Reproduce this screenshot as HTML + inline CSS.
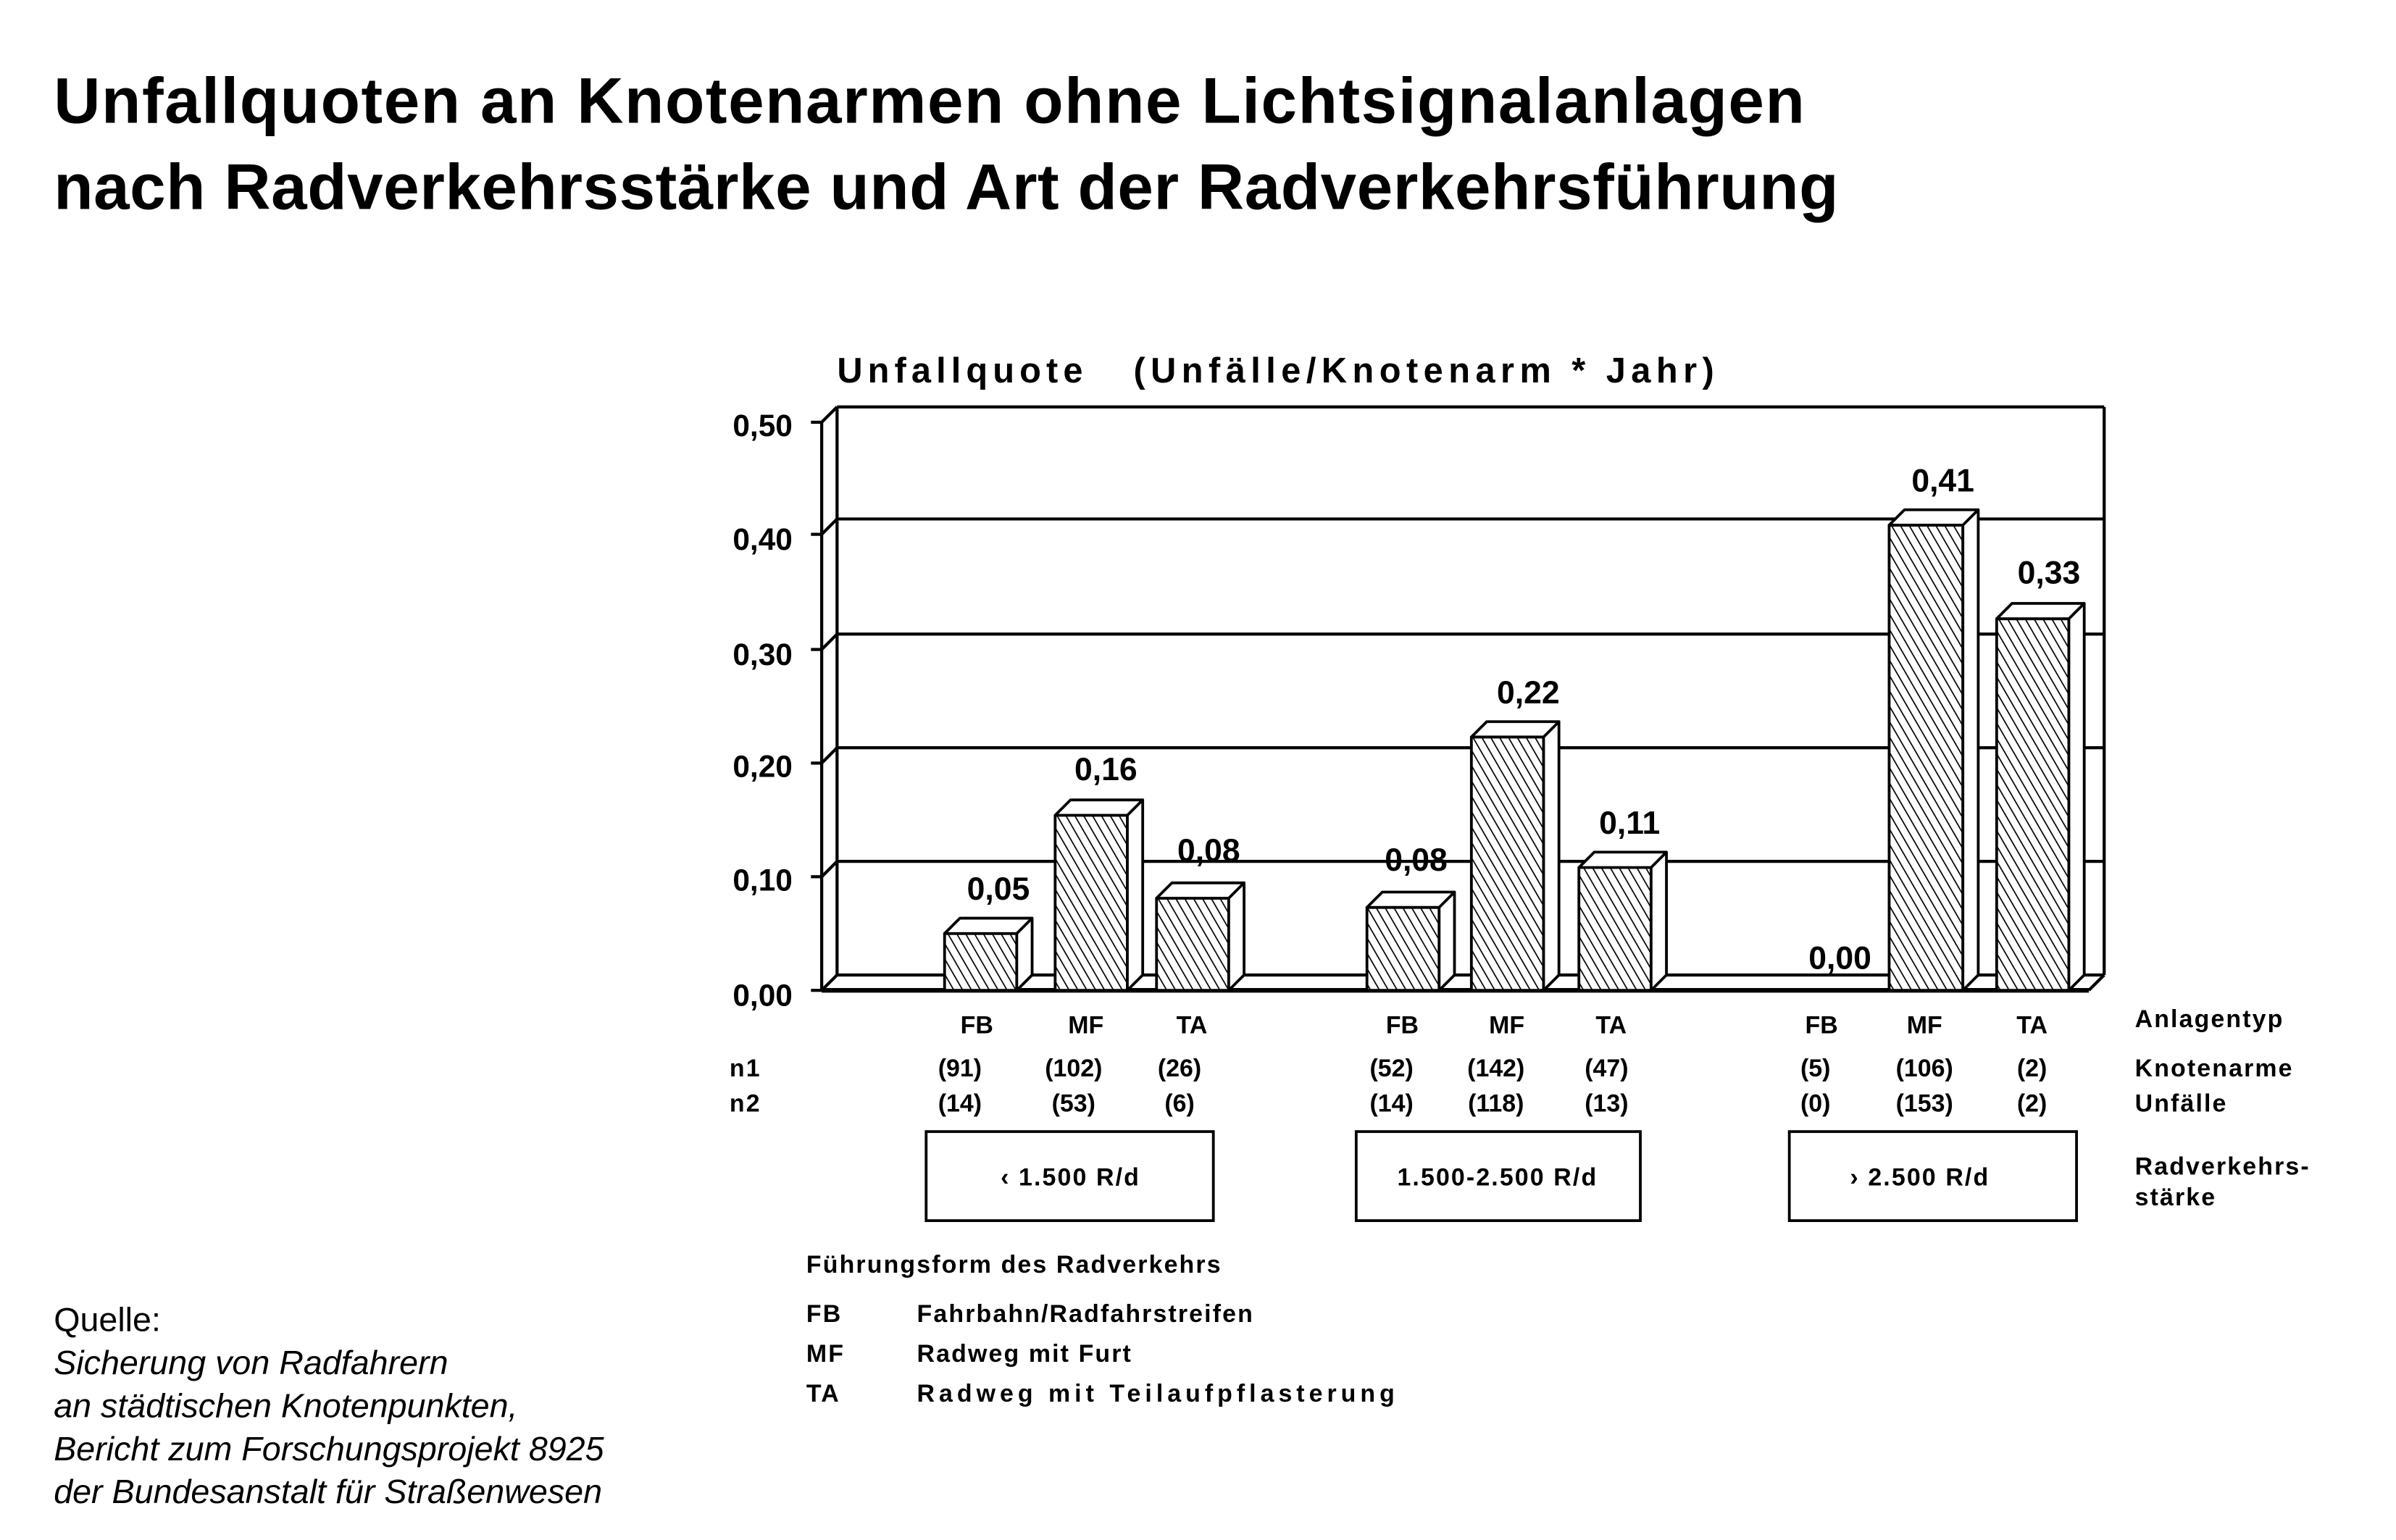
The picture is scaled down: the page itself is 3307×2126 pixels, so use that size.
<!DOCTYPE html>
<html><head><meta charset="utf-8"><style>html,body{margin:0;padding:0;background:#fff}svg{display:block}</style></head>
<body>
<svg width="3307" height="2126" viewBox="0 0 1560 1003" preserveAspectRatio="none" xmlns="http://www.w3.org/2000/svg" font-family="Liberation Sans, sans-serif">
<defs>
<pattern id="h" patternUnits="userSpaceOnUse" width="5" height="5" patternTransform="rotate(-30)">
<rect width="5" height="5" fill="#fff"/><line x1="0" y1="0" x2="0" y2="5" stroke="#000" stroke-width="1.6"/></pattern>
</defs>
<g font-weight="bold" fill="#000">
<text x="35" y="80" font-size="42" textLength="1140">Unfallquoten an Knotenarmen ohne Lichtsignalanlagen</text>
<text x="35" y="136" font-size="42" textLength="1162">nach Radverkehrsstärke und Art der Radverkehrsführung</text>
</g>
<text x="545" y="249" font-size="23" font-weight="bold" textLength="160">Unfallquote</text>
<text x="738" y="249" font-size="23" font-weight="bold" textLength="378">(Unfälle/Knotenarm * Jahr)</text>
<g stroke="#000" fill="none" stroke-width="2">
<line x1="545" y1="265" x2="1370" y2="265"/>
<line x1="1370" y1="265" x2="1370" y2="635"/>
<line x1="545" y1="265" x2="545" y2="635"/>
<line x1="545" y1="338" x2="1370" y2="338"/>
<line x1="545" y1="413" x2="1370" y2="413"/>
<line x1="545" y1="487" x2="1370" y2="487"/>
<line x1="545" y1="561" x2="1370" y2="561"/>
<line x1="545" y1="635" x2="1370" y2="635"/>
<line x1="535" y1="275" x2="535" y2="645"/>
<line x1="535" y1="645" x2="1360" y2="645" stroke-width="3"/>
<line x1="535" y1="275" x2="545" y2="265"/>
<line x1="535" y1="348" x2="545" y2="338"/>
<line x1="535" y1="423" x2="545" y2="413"/>
<line x1="535" y1="497" x2="545" y2="487"/>
<line x1="535" y1="571" x2="545" y2="561"/>
<line x1="535" y1="645" x2="545" y2="635"/>
<line x1="1360" y1="645" x2="1370" y2="635"/>
<line x1="528" y1="275" x2="535" y2="275"/><line x1="528" y1="348" x2="535" y2="348"/><line x1="528" y1="423" x2="535" y2="423"/><line x1="528" y1="497" x2="535" y2="497"/><line x1="528" y1="571" x2="535" y2="571"/><line x1="528" y1="645" x2="535" y2="645"/>
</g>
<g font-size="20" font-weight="bold" text-anchor="end">
<text x="516" y="284">0,50</text><text x="516" y="358">0,40</text><text x="516" y="433">0,30</text><text x="516" y="506">0,20</text><text x="516" y="580">0,10</text><text x="516" y="655">0,00</text>
</g>
<g stroke="#000" stroke-width="1.8" stroke-linejoin="round">
<path d="M615 608 h47 v37 h-47z" fill="url(#h)"/><path d="M615 608 l10 -10 h47 l-10 10z M662 608 l10 -10 v37 l-10 10z" fill="#fff"/>
<path d="M687 531 h47 v114 h-47z" fill="url(#h)"/><path d="M687 531 l10 -10 h47 l-10 10z M734 531 l10 -10 v114 l-10 10z" fill="#fff"/>
<path d="M753 585 h47 v60 h-47z" fill="url(#h)"/><path d="M753 585 l10 -10 h47 l-10 10z M800 585 l10 -10 v60 l-10 10z" fill="#fff"/>
<path d="M890 591 h47 v54 h-47z" fill="url(#h)"/><path d="M890 591 l10 -10 h47 l-10 10z M937 591 l10 -10 v54 l-10 10z" fill="#fff"/>
<path d="M958 480 h47 v165 h-47z" fill="url(#h)"/><path d="M958 480 l10 -10 h47 l-10 10z M1005 480 l10 -10 v165 l-10 10z" fill="#fff"/>
<path d="M1028 565 h47 v80 h-47z" fill="url(#h)"/><path d="M1028 565 l10 -10 h47 l-10 10z M1075 565 l10 -10 v80 l-10 10z" fill="#fff"/>
<path d="M1230 342 h48 v303 h-48z" fill="url(#h)"/><path d="M1230 342 l10 -10 h48 l-10 10z M1278 342 l10 -10 v303 l-10 10z" fill="#fff"/>
<path d="M1300 403 h47 v242 h-47z" fill="url(#h)"/><path d="M1300 403 l10 -10 h47 l-10 10z M1347 403 l10 -10 v242 l-10 10z" fill="#fff"/>
</g>
<g font-size="21" font-weight="bold" text-anchor="middle">
<text x="650" y="586">0,05</text><text x="720" y="508">0,16</text><text x="787" y="561">0,08</text>
<text x="922" y="567">0,08</text><text x="995" y="458">0,22</text><text x="1061" y="543">0,11</text>
<text x="1198" y="631">0,00</text><text x="1265" y="320">0,41</text><text x="1334" y="380">0,33</text>
</g>
<g font-size="16" font-weight="bold" text-anchor="middle">
<text x="636" y="673">FB</text><text x="707" y="673">MF</text><text x="776" y="673">TA</text>
<text x="913" y="673">FB</text><text x="981" y="673">MF</text><text x="1049" y="673">TA</text>
<text x="1186" y="673">FB</text><text x="1253" y="673">MF</text><text x="1323" y="673">TA</text>
<text x="625" y="701">(91)</text><text x="699" y="701">(102)</text><text x="768" y="701">(26)</text>
<text x="906" y="701">(52)</text><text x="974" y="701">(142)</text><text x="1046" y="701">(47)</text>
<text x="1182" y="701">(5)</text><text x="1253" y="701">(106)</text><text x="1323" y="701">(2)</text>
<text x="625" y="724">(14)</text><text x="699" y="724">(53)</text><text x="768" y="724">(6)</text>
<text x="906" y="724">(14)</text><text x="974" y="724">(118)</text><text x="1046" y="724">(13)</text>
<text x="1182" y="724">(0)</text><text x="1253" y="724">(153)</text><text x="1323" y="724">(2)</text>
</g>
<g font-size="16" font-weight="bold" letter-spacing="1">
<text x="475" y="701">n1</text><text x="475" y="724">n2</text>
<text x="1390" y="669">Anlagentyp</text><text x="1390" y="701">Knotenarme</text><text x="1390" y="724">Unfälle</text>
<text x="1390" y="765">Radverkehrs-</text><text x="1390" y="785">stärke</text>
<text x="525" y="829">Führungsform des Radverkehrs</text>
<text x="525" y="861">FB</text><text x="597" y="861">Fahrbahn/Radfahrstreifen</text>
<text x="525" y="887">MF</text><text x="597" y="887">Radweg mit Furt</text>
<text x="525" y="913">TA</text><text x="597" y="913" textLength="312">Radweg mit Teilaufpflasterung</text>
</g>
<g fill="none" stroke="#000" stroke-width="1.8">
<rect x="603" y="737" width="187" height="58"/><rect x="883" y="737" width="185" height="58"/><rect x="1165" y="737" width="187" height="58"/>
</g>
<g font-size="16" font-weight="bold" text-anchor="middle" letter-spacing="1">
<text x="697" y="772">‹ 1.500 R/d</text><text x="975" y="772">1.500-2.500 R/d</text><text x="1250" y="772">› 2.500 R/d</text>
</g>
<g font-size="22">
<text x="35" y="867">Quelle:</text>
<g font-style="italic"><text x="35" y="895">Sicherung von Radfahrern</text><text x="35" y="923">an städtischen Knotenpunkten,</text><text x="35" y="951">Bericht zum Forschungsprojekt 8925</text><text x="35" y="979">der Bundesanstalt für Straßenwesen</text></g>
</g>
</svg>
</body></html>
